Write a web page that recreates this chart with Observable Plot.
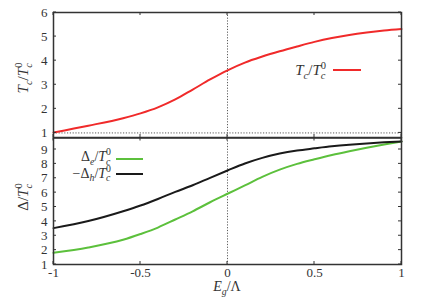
<!DOCTYPE html>
<html><head><meta charset="utf-8">
<script src="https://cdn.jsdelivr.net/npm/d3@7"></script>
<script src="https://cdn.jsdelivr.net/npm/@observablehq/plot@0.6"></script>
<style>
body{margin:0;background:#fff}
#c{position:relative;width:436px;height:305px;}
#c svg{position:absolute;left:0;overflow:visible}
#c svg text{font-family:"Liberation Serif","Times New Roman","DejaVu Serif",serif !important}
</style></head><body><div id="c"></div>
<script>
// ---- data ----
const eg = [-1, -0.8, -0.6, -0.5, -0.4, -0.3, -0.2, -0.1, 0, 0.1, 0.2, 0.3, 0.4, 0.5, 0.6, 0.7, 0.8, 0.9, 1];
const tcRatio = [1.02, 1.30, 1.61, 1.81, 2.06, 2.39, 2.80, 3.22, 3.60, 3.92, 4.17, 4.39, 4.59, 4.78, 4.94, 5.07, 5.17, 5.25, 5.31];
const deltaE  = [1.81, 2.18, 2.72, 3.12, 3.57, 4.13, 4.70, 5.33, 5.92, 6.50, 7.10, 7.60, 8.00, 8.32, 8.62, 8.88, 9.12, 9.35, 9.56];
const deltaH  = [3.53, 4.02, 4.70, 5.10, 5.56, 6.05, 6.51, 7.03, 7.54, 8.03, 8.42, 8.72, 8.93, 9.08, 9.22, 9.33, 9.42, 9.50, 9.56];
const xTicks = [-1, -0.5, 0, 0.5, 1];
const topYTicks = [1, 2, 3, 4, 5, 6];
const bottomYTicks = [1, 2, 3, 4, 5, 6, 7, 8, 9];
const xDomain = [-1, 1];
const topYDomain = [0.81, 6];
const bottomYDomain = [1, 9.8];
const colors = {tc: "#f02a2a", de: "#5cc03c", dh: "#1a1a1a"};

const FONT = "Liberation Serif, Times New Roman, DejaVu Serif, serif";
const topData = eg.map((e, i) => ({e, v: tcRatio[i]}));
const botData = eg.flatMap((e, i) => [{e, v: deltaE[i], s: "de"}, {e, v: deltaH[i], s: "dh"}]);

const container = document.getElementById("c");

const dotted = {stroke: "#333", strokeWidth: 0.8, strokeDasharray: "1.2,1.6"};

const topChart = Plot.plot({
  width: 436, height: 140,
  marginLeft: 53, marginRight: 35, marginTop: 12, marginBottom: 3,
  style: {fontFamily: FONT, fontSize: "13px", background: "transparent"},
  x: {domain: xDomain, axis: null},
  y: {domain: topYDomain},
  marks: [
    Plot.ruleY([1], dotted),
    Plot.ruleX([0], dotted),
    Plot.line(topData, {x: "e", y: "v", stroke: colors.tc, strokeWidth: 2, curve: "monotone-x"}),
    Plot.axisY(topYTicks, {tickSize: 0, tickPadding: 6, fontSize: 13, fill: "#333", label: null}),
    Plot.frame({stroke: "#333", strokeWidth: 1.5})
  ]
});
topChart.style.top = "0px";
container.appendChild(topChart);

const botChart = Plot.plot({
  width: 436, height: 175,
  marginLeft: 53, marginRight: 35, marginTop: 7.5, marginBottom: 41,
  style: {fontFamily: FONT, fontSize: "13px", background: "transparent"},
  x: {domain: xDomain},
  y: {domain: bottomYDomain},
  marks: [
    Plot.ruleX([0], dotted),
    Plot.line(botData, {x: "e", y: "v", z: "s", stroke: d => colors[d.s], strokeWidth: 2, curve: "monotone-x"}),
    Plot.axisY(bottomYTicks, {tickSize: 0, tickPadding: 6, fontSize: 13, fill: "#333", label: null}),
    Plot.axisX(xTicks, {tickSize: 0, tickPadding: 3, fontSize: 13, fill: "#333", label: null, tickFormat: d => String(d)}),
    Plot.frame({stroke: "#333", strokeWidth: 1.5})
  ]
});
botChart.style.top = "130px";
container.appendChild(botChart);

// inward ticks on all four sides
function inwardTicks(chart, xt, yt, len) {
  const sx = chart.scale("x"), sy = chart.scale("y");
  const [x0, x1] = sx.range, [y0, y1] = sy.range; // y0 bottom, y1 top
  const g = d3.select(chart).append("g").attr("stroke", "#333").attr("stroke-width", 1);
  for (const v of xt) {
    const x = sx.apply(v);
    g.append("line").attr("x1", x).attr("x2", x).attr("y1", y0).attr("y2", y0 - len);
    g.append("line").attr("x1", x).attr("x2", x).attr("y1", y1).attr("y2", y1 + len);
  }
  for (const v of yt) {
    const y = sy.apply(v);
    g.append("line").attr("y1", y).attr("y2", y).attr("x1", x0).attr("x2", x0 + len);
    g.append("line").attr("y1", y).attr("y2", y).attr("x1", x1).attr("x2", x1 - len);
  }
}
inwardTicks(topChart, xTicks, topYTicks, 3);
inwardTicks(botChart, xTicks, bottomYTicks, 3);

// rich text with sub/superscripts
function rich(svg, parts, {x, y, anchor = "start", rotate = 0, size = 14, fill = "#333", subOff = 0.28, supOff = 0.42}) {
  const t = d3.select(svg).append("text")
    .attr("transform", `translate(${x},${y})` + (rotate ? ` rotate(${rotate})` : ""))
    .attr("text-anchor", anchor).attr("font-family", FONT)
    .attr("font-size", size).attr("fill", fill);
  let cur = 0, lastW = 0;
  for (const p of parts) {
    const pos = p.pos || "base";
    const fs = pos === "base" ? size : size * 0.7;
    const off = pos === "sub" ? size * subOff : (pos === "sup" || pos === "supStack") ? -size * supOff : 0;
    const ts = t.append("tspan").text(p.t).attr("font-size", fs).attr("dy", off - cur);
    if (p.i) ts.attr("font-style", "italic");
    if (pos === "supStack") ts.attr("dx", -lastW);
    cur = off;
    lastW = ts.node().getComputedTextLength();
  }
  return t;
}
const TcT0 = [{t: "T", i: true}, {t: "c", i: true, pos: "sub"}, {t: "/"}, {t: "T", i: true}, {t: "c", i: true, pos: "sub"}, {t: "0", pos: "supStack"}];
const overT0 = [{t: "/"}, {t: "T", i: true}, {t: "c", i: true, pos: "sub"}, {t: "0", pos: "supStack"}];

// axis labels
rich(topChart, TcT0, {x: 28, y: 78, anchor: "middle", rotate: -90, size: 15});
rich(botChart, [{t: "Δ"}, ...overT0], {x: 28, y: 67, anchor: "middle", rotate: -90, size: 15});
rich(botChart, [{t: "E", i: true}, {t: "g", i: true, pos: "sub"}, {t: "/"}, {t: "Λ"}], {x: 227, y: 161, anchor: "middle", size: 14});

// legends
rich(topChart, TcT0, {x: 326, y: 75, anchor: "end", size: 15});
d3.select(topChart).append("line").attr("x1", 333).attr("x2", 361).attr("y1", 70).attr("y2", 70)
  .attr("stroke", colors.tc).attr("stroke-width", 2);
rich(botChart, [{t: "Δ"}, {t: "e", i: true, pos: "sub"}, ...overT0], {x: 111, y: 31, anchor: "end", size: 14});
rich(botChart, [{t: "−Δ"}, {t: "h", i: true, pos: "sub"}, ...overT0], {x: 111, y: 47.5, anchor: "end", size: 14});
d3.select(botChart).append("line").attr("x1", 116).attr("x2", 143).attr("y1", 29).attr("y2", 29)
  .attr("stroke", colors.de).attr("stroke-width", 2);
d3.select(botChart).append("line").attr("x1", 116).attr("x2", 143).attr("y1", 44).attr("y2", 44)
  .attr("stroke", colors.dh).attr("stroke-width", 2);
</script></body></html>
